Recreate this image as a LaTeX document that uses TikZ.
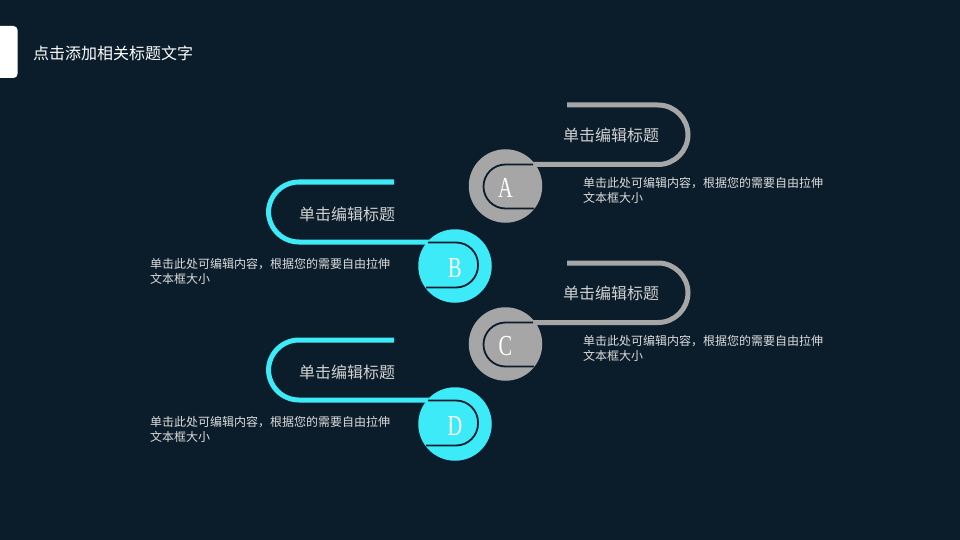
\documentclass[tikz,border=0pt]{standalone}
\usepackage{fontspec}
\setmainfont{Noto Sans CJK SC}
\newfontfamily\letterfont{Liberation Serif}
\definecolor{bg}{HTML}{0B1D2B}
\definecolor{grayc}{HTML}{A6A6A6}
\definecolor{cyanc}{HTML}{3CEBF7}
\definecolor{headc}{HTML}{D2D2D2}
\definecolor{descc}{HTML}{DCDCDC}
\tikzset{
  grayline/.style={draw=grayc, line width=5pt, rounded corners=30pt},
  cyanline/.style={draw=cyanc, line width=5pt, rounded corners=30.5pt},
  innerU/.style={draw=bg, line width=1.8pt, rounded corners=22pt},
  circ/.style={circle, inner sep=0pt, minimum size=73.5pt},
  heading/.style={text=headc, inner sep=0pt, font=\fontsize{16}{19}\selectfont},
  desc/.style={text=descc, inner sep=0pt, anchor=base west, align=left, font=\fontsize{12}{15}\selectfont},
  letter/.style={text=white, inner sep=0pt, xscale=0.7, font=\letterfont\fontsize{29}{30}\selectfont},
}
\begin{document}
\begin{tikzpicture}[x=1pt,y=-1pt]
\fill[bg] (0,0) rectangle (960,540);
\useasboundingbox (0,0) rectangle (960,540);
% tab and title
\fill[white, rounded corners=4pt] (-6,26) rectangle (17.5,78);
\node[anchor=west, text=white, inner sep=0pt, font=\fontsize{16}{19}\selectfont] (title) at (33,53) {点击添加相关标题文字};

% ---------- A ----------
\coordinate (eA) at (567,105);
\coordinate (jA) at (505.5,164.5);
\draw[grayline] (eA) -- (688,105) -- (688,164.5) -- (jA);
\node[circ, fill=grayc] (cA) at (505.5,186) {};
\draw[innerU] (533,164.5) -- (483.5,164.5) -- (483.5,208.5) -- (534,208.5);
\node[letter] (lA) at (505.5,188) {A};
\node[heading] (hA) at (611,135) {单击编辑标题};
\node[desc] (dA) at (583,202.5) {单击此处可编辑内容，根据您的需要自由拉伸\\文本框大小};

% ---------- C ----------
\coordinate (eC) at (567,263);
\coordinate (jC) at (505.5,322.5);
\draw[grayline] (eC) -- (688,263) -- (688,322.5) -- (jC);
\node[circ, fill=grayc] (cC) at (505.5,344) {};
\draw[innerU] (533,322.5) -- (483.5,322.5) -- (483.5,366.5) -- (534,366.5);
\node[letter] (lC) at (505.5,346) {C};
\node[heading] (hC) at (611,293.5) {单击编辑标题};
\node[desc] (dC) at (583,360.5) {单击此处可编辑内容，根据您的需要自由拉伸\\文本框大小};

% ---------- B ----------
\coordinate (eB) at (394,182);
\coordinate (jB) at (455,242);
\draw[cyanline] (eB) -- (268.5,182) -- (268.5,242) -- (jB);
\node[circ, fill=cyanc] (cB) at (455,266) {};
\draw[innerU] (428,242.5) -- (478,242.5) -- (478,287.5) -- (426,287.5);
\node[letter] (lB) at (455,268) {B};
\node[heading] (hB) at (347,214) {单击编辑标题};
\node[desc] (dB) at (150,283.5) {单击此处可编辑内容，根据您的需要自由拉伸\\文本框大小};

% ---------- D ----------
\coordinate (eD) at (394,340);
\coordinate (jD) at (455,400);
\draw[cyanline] (eD) -- (268.5,340) -- (268.5,400) -- (jD);
\node[circ, fill=cyanc] (cD) at (455,424) {};
\draw[innerU] (428,400.5) -- (478,400.5) -- (478,445.5) -- (426,445.5);
\node[letter] (lD) at (455,426) {D};
\node[heading] (hD) at (347,372) {单击编辑标题};
\node[desc] (dD) at (150,441.5) {单击此处可编辑内容，根据您的需要自由拉伸\\文本框大小};
\end{tikzpicture}
\end{document}
